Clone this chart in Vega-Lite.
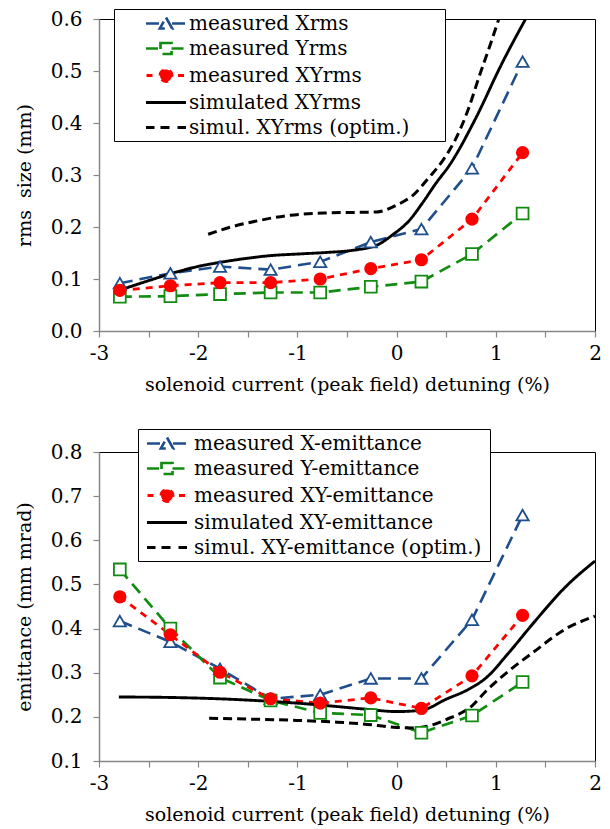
{
  "$schema": "https://vega.github.io/schema/vega-lite/v6.json",
  "background": "white",
  "padding": {"left": 14, "top": 8, "right": 10, "bottom": 5},
  "spacing": 33,
  "resolve": {
    "scale": {"color": "independent", "strokeDash": "independent", "strokeWidth": "independent", "shape": "independent", "size": "independent", "fill": "independent", "stroke": "independent"},
    "legend": {"color": "independent"}
  },
  "config": {
    "font": "DejaVu Serif",
    "view": {"stroke": "#000000", "strokeWidth": 1},
    "axis": {
      "labelFont": "DejaVu Serif", "labelFontSize": 20, "labelColor": "#000000",
      "titleFont": "DejaVu Serif", "titleFontSize": 19, "titleFontWeight": "normal", "titleColor": "#000000",
      "domainColor": "#868686", "domainWidth": 1.5, "tickColor": "#868686", "tickWidth": 1.2, "tickSize": 6,
      "grid": false, "labelFlush": false, "labelOverlap": false
    },
    "legend": {"labelFont": "DejaVu Serif"}
  },
  "datasets": {
    "rms": [
      {"series": "measured Xrms", "kind": "meas", "x": -2.79, "y": 0.092},
      {"series": "measured Xrms", "kind": "meas", "x": -2.28, "y": 0.111},
      {"series": "measured Xrms", "kind": "meas", "x": -1.78, "y": 0.124},
      {"series": "measured Xrms", "kind": "meas", "x": -1.27, "y": 0.118},
      {"series": "measured Xrms", "kind": "meas", "x": -0.77, "y": 0.133},
      {"series": "measured Xrms", "kind": "meas", "x": -0.26, "y": 0.171},
      {"series": "measured Xrms", "kind": "meas", "x": 0.25, "y": 0.196},
      {"series": "measured Xrms", "kind": "meas", "x": 0.76, "y": 0.313},
      {"series": "measured Xrms", "kind": "meas", "x": 1.27, "y": 0.518},
      {"series": "measured Yrms", "kind": "meas", "x": -2.79, "y": 0.066},
      {"series": "measured Yrms", "kind": "meas", "x": -2.28, "y": 0.067},
      {"series": "measured Yrms", "kind": "meas", "x": -1.78, "y": 0.071},
      {"series": "measured Yrms", "kind": "meas", "x": -1.27, "y": 0.074},
      {"series": "measured Yrms", "kind": "meas", "x": -0.77, "y": 0.074},
      {"series": "measured Yrms", "kind": "meas", "x": -0.26, "y": 0.085},
      {"series": "measured Yrms", "kind": "meas", "x": 0.25, "y": 0.095},
      {"series": "measured Yrms", "kind": "meas", "x": 0.76, "y": 0.148},
      {"series": "measured Yrms", "kind": "meas", "x": 1.27, "y": 0.226},
      {"series": "measured XYrms", "kind": "meas", "x": -2.79, "y": 0.078},
      {"series": "measured XYrms", "kind": "meas", "x": -2.28, "y": 0.087},
      {"series": "measured XYrms", "kind": "meas", "x": -1.78, "y": 0.093},
      {"series": "measured XYrms", "kind": "meas", "x": -1.27, "y": 0.093},
      {"series": "measured XYrms", "kind": "meas", "x": -0.77, "y": 0.100},
      {"series": "measured XYrms", "kind": "meas", "x": -0.26, "y": 0.120},
      {"series": "measured XYrms", "kind": "meas", "x": 0.25, "y": 0.137},
      {"series": "measured XYrms", "kind": "meas", "x": 0.76, "y": 0.215},
      {"series": "measured XYrms", "kind": "meas", "x": 1.27, "y": 0.343},
      {"series": "simulated XYrms", "kind": "sim", "x": -2.80, "y": 0.078},
      {"series": "simulated XYrms", "kind": "sim", "x": -2.53, "y": 0.095},
      {"series": "simulated XYrms", "kind": "sim", "x": -2.28, "y": 0.110},
      {"series": "simulated XYrms", "kind": "sim", "x": -1.98, "y": 0.125},
      {"series": "simulated XYrms", "kind": "sim", "x": -1.78, "y": 0.132},
      {"series": "simulated XYrms", "kind": "sim", "x": -1.50, "y": 0.140},
      {"series": "simulated XYrms", "kind": "sim", "x": -1.27, "y": 0.145},
      {"series": "simulated XYrms", "kind": "sim", "x": -1.00, "y": 0.148},
      {"series": "simulated XYrms", "kind": "sim", "x": -0.71, "y": 0.151},
      {"series": "simulated XYrms", "kind": "sim", "x": -0.45, "y": 0.155},
      {"series": "simulated XYrms", "kind": "sim", "x": -0.20, "y": 0.165},
      {"series": "simulated XYrms", "kind": "sim", "x": -0.04, "y": 0.185},
      {"series": "simulated XYrms", "kind": "sim", "x": 0.13, "y": 0.213},
      {"series": "simulated XYrms", "kind": "sim", "x": 0.26, "y": 0.246},
      {"series": "simulated XYrms", "kind": "sim", "x": 0.40, "y": 0.285},
      {"series": "simulated XYrms", "kind": "sim", "x": 0.53, "y": 0.318},
      {"series": "simulated XYrms", "kind": "sim", "x": 0.80, "y": 0.410},
      {"series": "simulated XYrms", "kind": "sim", "x": 1.05, "y": 0.510},
      {"series": "simulated XYrms", "kind": "sim", "x": 1.30, "y": 0.600},
      {"series": "simul. XYrms (optim.)", "kind": "sim", "x": -1.90, "y": 0.186},
      {"series": "simul. XYrms (optim.)", "kind": "sim", "x": -1.67, "y": 0.200},
      {"series": "simul. XYrms (optim.)", "kind": "sim", "x": -1.40, "y": 0.212},
      {"series": "simul. XYrms (optim.)", "kind": "sim", "x": -1.10, "y": 0.222},
      {"series": "simul. XYrms (optim.)", "kind": "sim", "x": -0.71, "y": 0.227},
      {"series": "simul. XYrms (optim.)", "kind": "sim", "x": -0.20, "y": 0.229},
      {"series": "simul. XYrms (optim.)", "kind": "sim", "x": 0.00, "y": 0.242},
      {"series": "simul. XYrms (optim.)", "kind": "sim", "x": 0.17, "y": 0.262},
      {"series": "simul. XYrms (optim.)", "kind": "sim", "x": 0.33, "y": 0.296},
      {"series": "simul. XYrms (optim.)", "kind": "sim", "x": 0.47, "y": 0.329},
      {"series": "simul. XYrms (optim.)", "kind": "sim", "x": 0.60, "y": 0.371},
      {"series": "simul. XYrms (optim.)", "kind": "sim", "x": 0.72, "y": 0.425},
      {"series": "simul. XYrms (optim.)", "kind": "sim", "x": 0.83, "y": 0.488},
      {"series": "simul. XYrms (optim.)", "kind": "sim", "x": 0.95, "y": 0.554},
      {"series": "simul. XYrms (optim.)", "kind": "sim", "x": 1.03, "y": 0.600}
    ],
    "emit": [
      {"series": "measured X-emittance", "kind": "meas", "x": -2.79, "y": 0.417},
      {"series": "measured X-emittance", "kind": "meas", "x": -2.28, "y": 0.370},
      {"series": "measured X-emittance", "kind": "meas", "x": -1.78, "y": 0.309},
      {"series": "measured X-emittance", "kind": "meas", "x": -1.27, "y": 0.241},
      {"series": "measured X-emittance", "kind": "meas", "x": -0.77, "y": 0.250},
      {"series": "measured X-emittance", "kind": "meas", "x": -0.26, "y": 0.287},
      {"series": "measured X-emittance", "kind": "meas", "x": 0.25, "y": 0.287},
      {"series": "measured X-emittance", "kind": "meas", "x": 0.76, "y": 0.420},
      {"series": "measured X-emittance", "kind": "meas", "x": 1.27, "y": 0.657},
      {"series": "measured Y-emittance", "kind": "meas", "x": -2.79, "y": 0.534},
      {"series": "measured Y-emittance", "kind": "meas", "x": -2.28, "y": 0.400},
      {"series": "measured Y-emittance", "kind": "meas", "x": -1.78, "y": 0.289},
      {"series": "measured Y-emittance", "kind": "meas", "x": -1.27, "y": 0.237},
      {"series": "measured Y-emittance", "kind": "meas", "x": -0.77, "y": 0.209},
      {"series": "measured Y-emittance", "kind": "meas", "x": -0.26, "y": 0.204},
      {"series": "measured Y-emittance", "kind": "meas", "x": 0.25, "y": 0.164},
      {"series": "measured Y-emittance", "kind": "meas", "x": 0.76, "y": 0.203},
      {"series": "measured Y-emittance", "kind": "meas", "x": 1.27, "y": 0.279},
      {"series": "measured XY-emittance", "kind": "meas", "x": -2.79, "y": 0.472},
      {"series": "measured XY-emittance", "kind": "meas", "x": -2.28, "y": 0.386},
      {"series": "measured XY-emittance", "kind": "meas", "x": -1.78, "y": 0.301},
      {"series": "measured XY-emittance", "kind": "meas", "x": -1.27, "y": 0.241},
      {"series": "measured XY-emittance", "kind": "meas", "x": -0.77, "y": 0.231},
      {"series": "measured XY-emittance", "kind": "meas", "x": -0.26, "y": 0.243},
      {"series": "measured XY-emittance", "kind": "meas", "x": 0.25, "y": 0.219},
      {"series": "measured XY-emittance", "kind": "meas", "x": 0.76, "y": 0.293},
      {"series": "measured XY-emittance", "kind": "meas", "x": 1.27, "y": 0.430},
      {"series": "simulated XY-emittance", "kind": "sim", "x": -2.80, "y": 0.245},
      {"series": "simulated XY-emittance", "kind": "sim", "x": -2.30, "y": 0.244},
      {"series": "simulated XY-emittance", "kind": "sim", "x": -1.80, "y": 0.241},
      {"series": "simulated XY-emittance", "kind": "sim", "x": -1.34, "y": 0.236},
      {"series": "simulated XY-emittance", "kind": "sim", "x": -1.00, "y": 0.231},
      {"series": "simulated XY-emittance", "kind": "sim", "x": -0.68, "y": 0.225},
      {"series": "simulated XY-emittance", "kind": "sim", "x": -0.34, "y": 0.218},
      {"series": "simulated XY-emittance", "kind": "sim", "x": 0.00, "y": 0.212},
      {"series": "simulated XY-emittance", "kind": "sim", "x": 0.25, "y": 0.215},
      {"series": "simulated XY-emittance", "kind": "sim", "x": 0.50, "y": 0.240},
      {"series": "simulated XY-emittance", "kind": "sim", "x": 0.73, "y": 0.263},
      {"series": "simulated XY-emittance", "kind": "sim", "x": 0.90, "y": 0.288},
      {"series": "simulated XY-emittance", "kind": "sim", "x": 1.13, "y": 0.345},
      {"series": "simulated XY-emittance", "kind": "sim", "x": 1.37, "y": 0.410},
      {"series": "simulated XY-emittance", "kind": "sim", "x": 1.71, "y": 0.496},
      {"series": "simulated XY-emittance", "kind": "sim", "x": 2.00, "y": 0.553},
      {"series": "simul. XY-emittance (optim.)", "kind": "sim", "x": -1.89, "y": 0.197},
      {"series": "simul. XY-emittance (optim.)", "kind": "sim", "x": -1.50, "y": 0.195},
      {"series": "simul. XY-emittance (optim.)", "kind": "sim", "x": -1.01, "y": 0.192},
      {"series": "simul. XY-emittance (optim.)", "kind": "sim", "x": -0.60, "y": 0.188},
      {"series": "simul. XY-emittance (optim.)", "kind": "sim", "x": -0.34, "y": 0.184},
      {"series": "simul. XY-emittance (optim.)", "kind": "sim", "x": 0.00, "y": 0.176},
      {"series": "simul. XY-emittance (optim.)", "kind": "sim", "x": 0.17, "y": 0.175},
      {"series": "simul. XY-emittance (optim.)", "kind": "sim", "x": 0.35, "y": 0.181},
      {"series": "simul. XY-emittance (optim.)", "kind": "sim", "x": 0.50, "y": 0.194},
      {"series": "simul. XY-emittance (optim.)", "kind": "sim", "x": 0.76, "y": 0.225},
      {"series": "simul. XY-emittance (optim.)", "kind": "sim", "x": 0.90, "y": 0.258},
      {"series": "simul. XY-emittance (optim.)", "kind": "sim", "x": 1.13, "y": 0.304},
      {"series": "simul. XY-emittance (optim.)", "kind": "sim", "x": 1.37, "y": 0.345},
      {"series": "simul. XY-emittance (optim.)", "kind": "sim", "x": 1.71, "y": 0.400},
      {"series": "simul. XY-emittance (optim.)", "kind": "sim", "x": 2.00, "y": 0.428}
    ]
  },
  "vconcat": [
    {
      "width": 496,
      "height": 312,
      "data": {"name": "rms"},
      "encoding": {
        "x": {"field": "x", "type": "quantitative", "scale": {"domain": [-3, 2], "nice": false, "zero": false},
          "axis": {"values": [-3, -2.5, -2, -1.5, -1, -0.5, 0, 0.5, 1, 1.5, 2], "labelExpr": "datum.value % 1 === 0 ? toString(datum.value) : ''", "title": "solenoid current (peak field) detuning (%)", "labelPadding": 6, "titlePadding": 12}},
        "y": {"field": "y", "type": "quantitative", "scale": {"domain": [0, 0.6], "nice": false},
          "axis": {"values": [0, 0.1, 0.2, 0.3, 0.4, 0.5, 0.6], "format": ".1f", "title": "rms\u00a0 size (mm)", "labelPadding": 11, "titlePadding": 16}}
      },
      "layer": [
        {
          "transform": [{"filter": "datum.kind === 'meas'"}],
          "mark": {"type": "line", "clip": true},
          "encoding": {
            "color": {"field": "series", "type": "nominal",
              "scale": {"domain": ["measured Xrms", "measured Yrms", "measured XYrms", "simulated XYrms", "simul. XYrms (optim.)"], "range": ["#1F4E8C", "#118C11", "#FF0000", "#000000", "#000000"]},
              "legend": {"orient": "none", "legendX": 15, "legendY": -10, "title": null, "symbolSize": 400, "symbolStrokeWidth": 2.5, "symbolOffset": 37.5, "labelOffset": 11.5, "padding": 3, "rowPadding": 3, "strokeColor": "#000000", "fillColor": "#ffffff", "labelFontSize": 20, "labelColor": "#000000", "labelLimit": 0,
                "encode": {"symbols": {"update": {
                  "shape": {"signal": "(indexof(datum.value,'simul.')>=0 ? 'M-2,0H-1.15M-0.55,0H0.55M1.15,0H2' : indexof(datum.value,'simulated')>=0 ? 'M-2,0H2' : indexof(datum.value,'XY')>=0 ? 'M-1.95,0H-1.35M1.2,0H1.8M-0.6,0C-0.6,-0.331,-0.331,-0.6,0,-0.6C0.331,-0.6,0.6,-0.331,0.6,0C0.6,0.331,0.331,0.6,0,0.6C-0.331,0.6,-0.6,0.331,-0.6,0Z' : indexof(datum.value,' X')>=0 ? 'M-2,0H-0.6M0.6,0H2M0,-0.6L0.62,0.5H-0.62Z' : 'M-2,0H-0.55M0.55,0H2M-0.55,-0.55H0.55V0.55H-0.55Z') + 'M27,0'"},
                  "stroke": {"signal": "indexof(datum.value,'simul')>=0 ? '#000000' : indexof(datum.value,'XY')>=0 ? '#FF0000' : indexof(datum.value,' X')>=0 ? '#1F4E8C' : '#118C11'"},
                  "fill": {"signal": "indexof(datum.value,'simul')>=0 ? 'transparent' : indexof(datum.value,'XY')>=0 ? '#FF0000' : '#ffffff'"},
                  "strokeDash": {"value": [1, 0]},
                  "strokeWidth": {"value": 2.5},
                  "opacity": {"value": 1}
                }}}
              }},
            "strokeDash": {"field": "series", "type": "nominal", "legend": null,
              "scale": {"domain": ["measured Xrms", "measured Yrms", "measured XYrms", "simulated XYrms", "simul. XYrms (optim.)"], "range": [[13, 7], [12, 7], [7, 6], [1, 0], [9, 5]]}},
            "strokeWidth": {"field": "series", "type": "nominal", "legend": null,
              "scale": {"domain": ["measured Xrms", "measured Yrms", "measured XYrms", "simulated XYrms", "simul. XYrms (optim.)"], "range": [2.6, 3, 1.8, 3, 3]}}
          }
        },
        {
          "transform": [{"filter": "datum.kind === 'sim'"}],
          "mark": {"type": "line", "interpolate": "monotone", "clip": true},
          "encoding": {
            "color": {"field": "series", "type": "nominal",
              "scale": {"domain": ["measured Xrms", "measured Yrms", "measured XYrms", "simulated XYrms", "simul. XYrms (optim.)"], "range": ["#1F4E8C", "#118C11", "#FF0000", "#000000", "#000000"]}},
            "strokeDash": {"field": "series", "type": "nominal", "legend": null},
            "strokeWidth": {"field": "series", "type": "nominal", "legend": null}
          }
        },
        {
          "transform": [{"filter": "datum.kind === 'meas'"}],
          "mark": {"type": "point", "opacity": 1, "strokeWidth": 1.8, "clip": true},
          "encoding": {
            "shape": {"field": "series", "type": "nominal", "legend": null,
              "scale": {"domain": ["measured Xrms", "measured Yrms", "measured XYrms"], "range": ["triangle-up", "square", "circle"]}},
            "size": {"field": "series", "type": "nominal", "legend": null,
              "scale": {"domain": ["measured Xrms", "measured Yrms", "measured XYrms"], "range": [150, 130, 190]}},
            "fill": {"field": "series", "type": "nominal", "legend": null,
              "scale": {"domain": ["measured Xrms", "measured Yrms", "measured XYrms"], "range": ["#ffffff", "#ffffff", "#FF0000"]}},
            "stroke": {"field": "series", "type": "nominal", "legend": null,
              "scale": {"domain": ["measured Xrms", "measured Yrms", "measured XYrms"], "range": ["#1F4E8C", "#118C11", "#FF0000"]}}
          }
        }
      ]
    },
    {
      "width": 496,
      "height": 309,
      "data": {"name": "emit"},
      "encoding": {
        "x": {"field": "x", "type": "quantitative", "scale": {"domain": [-3, 2], "nice": false, "zero": false},
          "axis": {"values": [-3, -2.5, -2, -1.5, -1, -0.5, 0, 0.5, 1, 1.5, 2], "labelExpr": "datum.value % 1 === 0 ? toString(datum.value) : ''", "title": "solenoid current (peak field) detuning (%)", "labelPadding": 6, "titlePadding": 12}},
        "y": {"field": "y", "type": "quantitative", "scale": {"domain": [0.1, 0.8], "nice": false, "zero": false},
          "axis": {"values": [0.1, 0.2, 0.3, 0.4, 0.5, 0.6, 0.7, 0.8], "format": ".1f", "title": "emittance (mm mrad)", "labelPadding": 11, "titlePadding": 16}}
      },
      "layer": [
        {
          "transform": [{"filter": "datum.kind === 'meas'"}],
          "mark": {"type": "line", "clip": true},
          "encoding": {
            "color": {"field": "series", "type": "nominal",
              "scale": {"domain": ["measured X-emittance", "measured Y-emittance", "measured XY-emittance", "simulated XY-emittance", "simul. XY-emittance (optim.)"], "range": ["#1F4E8C", "#118C11", "#FF0000", "#000000", "#000000"]},
              "legend": {"orient": "none", "legendX": 39, "legendY": -23, "title": null, "symbolSize": 400, "symbolStrokeWidth": 2.5, "symbolOffset": 14.5, "labelOffset": 15.5, "padding": 3, "rowPadding": 3, "strokeColor": "#000000", "fillColor": "#ffffff", "labelFontSize": 20, "labelColor": "#000000", "labelLimit": 0,
                "encode": {"symbols": {"update": {
                  "shape": {"signal": "(indexof(datum.value,'simul.')>=0 ? 'M-2,0H-1.15M-0.55,0H0.55M1.15,0H2' : indexof(datum.value,'simulated')>=0 ? 'M-2,0H2' : indexof(datum.value,'XY')>=0 ? 'M-1.95,0H-1.35M1.2,0H1.8M-0.6,0C-0.6,-0.331,-0.331,-0.6,0,-0.6C0.331,-0.6,0.6,-0.331,0.6,0C0.6,0.331,0.331,0.6,0,0.6C-0.331,0.6,-0.6,0.331,-0.6,0Z' : indexof(datum.value,' X')>=0 ? 'M-2,0H-0.6M0.6,0H2M0,-0.6L0.62,0.5H-0.62Z' : 'M-2,0H-0.55M0.55,0H2M-0.55,-0.55H0.55V0.55H-0.55Z') + 'M31.4,0'"},
                  "stroke": {"signal": "indexof(datum.value,'simul')>=0 ? '#000000' : indexof(datum.value,'XY')>=0 ? '#FF0000' : indexof(datum.value,' X')>=0 ? '#1F4E8C' : '#118C11'"},
                  "fill": {"signal": "indexof(datum.value,'simul')>=0 ? 'transparent' : indexof(datum.value,'XY')>=0 ? '#FF0000' : '#ffffff'"},
                  "strokeDash": {"value": [1, 0]},
                  "strokeWidth": {"value": 2.5},
                  "opacity": {"value": 1}
                }}}
              }},
            "strokeDash": {"field": "series", "type": "nominal", "legend": null,
              "scale": {"domain": ["measured X-emittance", "measured Y-emittance", "measured XY-emittance", "simulated XY-emittance", "simul. XY-emittance (optim.)"], "range": [[13, 7], [12, 7], [7, 6], [1, 0], [9, 5]]}},
            "strokeWidth": {"field": "series", "type": "nominal", "legend": null,
              "scale": {"domain": ["measured X-emittance", "measured Y-emittance", "measured XY-emittance", "simulated XY-emittance", "simul. XY-emittance (optim.)"], "range": [2.6, 3, 1.8, 3, 3]}}
          }
        },
        {
          "transform": [{"filter": "datum.kind === 'sim'"}],
          "mark": {"type": "line", "interpolate": "monotone", "clip": true},
          "encoding": {
            "color": {"field": "series", "type": "nominal",
              "scale": {"domain": ["measured X-emittance", "measured Y-emittance", "measured XY-emittance", "simulated XY-emittance", "simul. XY-emittance (optim.)"], "range": ["#1F4E8C", "#118C11", "#FF0000", "#000000", "#000000"]}},
            "strokeDash": {"field": "series", "type": "nominal", "legend": null},
            "strokeWidth": {"field": "series", "type": "nominal", "legend": null}
          }
        },
        {
          "transform": [{"filter": "datum.kind === 'meas'"}],
          "mark": {"type": "point", "opacity": 1, "strokeWidth": 1.8, "clip": true},
          "encoding": {
            "shape": {"field": "series", "type": "nominal", "legend": null,
              "scale": {"domain": ["measured X-emittance", "measured Y-emittance", "measured XY-emittance"], "range": ["triangle-up", "square", "circle"]}},
            "size": {"field": "series", "type": "nominal", "legend": null,
              "scale": {"domain": ["measured X-emittance", "measured Y-emittance", "measured XY-emittance"], "range": [150, 130, 190]}},
            "fill": {"field": "series", "type": "nominal", "legend": null,
              "scale": {"domain": ["measured X-emittance", "measured Y-emittance", "measured XY-emittance"], "range": ["#ffffff", "#ffffff", "#FF0000"]}},
            "stroke": {"field": "series", "type": "nominal", "legend": null,
              "scale": {"domain": ["measured X-emittance", "measured Y-emittance", "measured XY-emittance"], "range": ["#1F4E8C", "#118C11", "#FF0000"]}}
          }
        }
      ]
    }
  ]
}
